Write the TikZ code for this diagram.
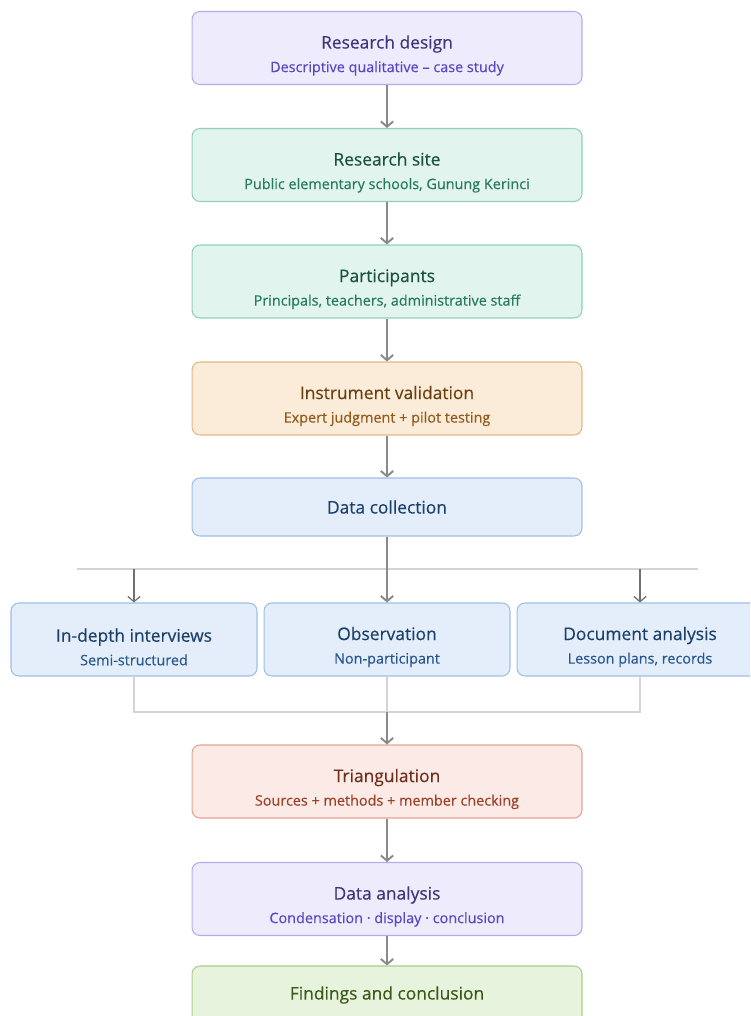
\documentclass[tikz,border=0pt]{standalone}
\usepackage{fontspec}
\setmainfont{Open Sans}
\newfontfamily\headfont[FakeBold=0.35]{Open Sans}
\usetikzlibrary{arrows.meta}

\definecolor{lavfill}{HTML}{EEECFC}
\definecolor{lavline}{HTML}{B4ABEE}
\definecolor{lavtext}{HTML}{3F3579}
\definecolor{lavsub}{HTML}{5848C2}
\definecolor{mintfill}{HTML}{E2F4EE}
\definecolor{mintline}{HTML}{92CFB6}
\definecolor{minttext}{HTML}{1B5142}
\definecolor{mintsub}{HTML}{277A60}
\definecolor{sandfill}{HTML}{FBECD9}
\definecolor{sandline}{HTML}{E3B785}
\definecolor{sandtext}{HTML}{6A4012}
\definecolor{sandsub}{HTML}{925A1C}
\definecolor{skyfill}{HTML}{E3EEFA}
\definecolor{skyline}{HTML}{9DBFE6}
\definecolor{skytext}{HTML}{1D406A}
\definecolor{skysub}{HTML}{28578F}
\definecolor{rosefill}{HTML}{FBEAE5}
\definecolor{roseline}{HTML}{E3A493}
\definecolor{rosetext}{HTML}{6F2E1C}
\definecolor{rosesub}{HTML}{9B4128}
\definecolor{leaffill}{HTML}{E8F3DD}
\definecolor{leafline}{HTML}{A9CD88}
\definecolor{leaftext}{HTML}{3A5A17}
\definecolor{flowgray}{HTML}{8A8A8A}
\definecolor{branchgray}{HTML}{707070}
\definecolor{splitgray}{HTML}{D4D4D4}

\newcommand{\subfont}{\fontsize{8.2}{10}\selectfont}
\newcommand{\twoline}[3]{\rule{0pt}{16pt}#1\\[1.4pt]{\subfont\color{#2}#3}}

\tikzset{
  card/.style = {rectangle, rounded corners=4.5pt, line width=0.6pt, inner sep=0pt,
                 align=center, minimum width=7.8cm, minimum height=1.46cm,
                 font=\headfont\fontsize{9.9}{12}\selectfont},
  lav/.style = {card, draw=lavline, fill=lavfill, text=lavtext},
  mint/.style = {card, draw=mintline, fill=mintfill, text=minttext},
  sand/.style = {card, draw=sandline, fill=sandfill, text=sandtext},
  sky/.style = {card, draw=skyline, fill=skyfill, text=skytext},
  rose/.style = {card, draw=roseline, fill=rosefill, text=rosetext},
  leaf/.style = {card, draw=leafline, fill=leaffill, text=leaftext},
  flat/.style = {minimum height=1.16cm},
  narrow/.style = {minimum width=4.92cm},
  flow/.style = {draw=flowgray, line width=1.1pt, -{Straight Barb[length=3pt,width=7pt]}},
  branch/.style = {draw=branchgray, line width=0.7pt, -{Straight Barb[length=3pt,width=7pt]}},
  split/.style = {draw=splitgray, line width=0.6pt}
}

\begin{document}
\begin{tikzpicture}[x=0.02cm, y=-0.02cm]
\useasboundingbox (0,0) rectangle (750,1016);
\clip (0,0) rectangle (750,1016);

\node[lav] (v1) at (387,48) {\twoline{Research design}{lavsub}{Descriptive qualitative – case study}};
\node[mint] (v2) at (387,165) {\twoline{Research site}{mintsub}{Public elementary schools, Gunung Kerinci}};
\node[mint] (v3) at (387,281.5) {\twoline{Participants}{mintsub}{Principals, teachers, administrative staff}};
\node[sand] (v4) at (387,398.5) {\twoline{Instrument validation}{sandsub}{Expert judgment + pilot testing}};
\node[sky, flat] (v5) at (387,507) {Data collection};

\node[sky, narrow] (v6) at (134,639.5) {\twoline{In-depth interviews}{skysub}{Semi-structured}};
\node[sky, narrow] (v7) at (387,639.5) {\twoline{Observation}{skysub}{Non-participant}};
\node[sky, narrow] (v8) at (640,639.5) {\twoline{Document analysis}{skysub}{Lesson plans, records}};

\node[rose] (v9) at (387,781.5) {\twoline{Triangulation}{rosesub}{Sources + methods + member checking}};
\node[lav] (v10) at (387,899) {\twoline{Data analysis}{lavsub}{Condensation · display · conclusion}};
\node[leaf, flat] (v11) at (387,995) {Findings and conclusion};

\coordinate (h1) at (77,569);
\coordinate (h2) at (698,569);
\coordinate (m1) at (387,712);

\draw [flow] (v1) edge (v2);
\draw [flow] (v2) edge (v3);
\draw [flow] (v3) edge (v4);
\draw [flow] (v4) edge (v5);
\draw [split] (h1) -- (h2);
\draw [flow] (v5) edge (v7);
\draw [branch] (v6 |- h1) -- (v6);
\draw [branch] (v8 |- h1) -- (v8);
\draw [split] (v6) -- (v6 |- m1) -| (v8);
\draw [split] (v7) -- (m1);
\draw [flow] (m1) -- (v9);
\draw [flow] (v9) edge (v10);
\draw [flow] (v10) edge (v11);
\end{tikzpicture}
\end{document}
